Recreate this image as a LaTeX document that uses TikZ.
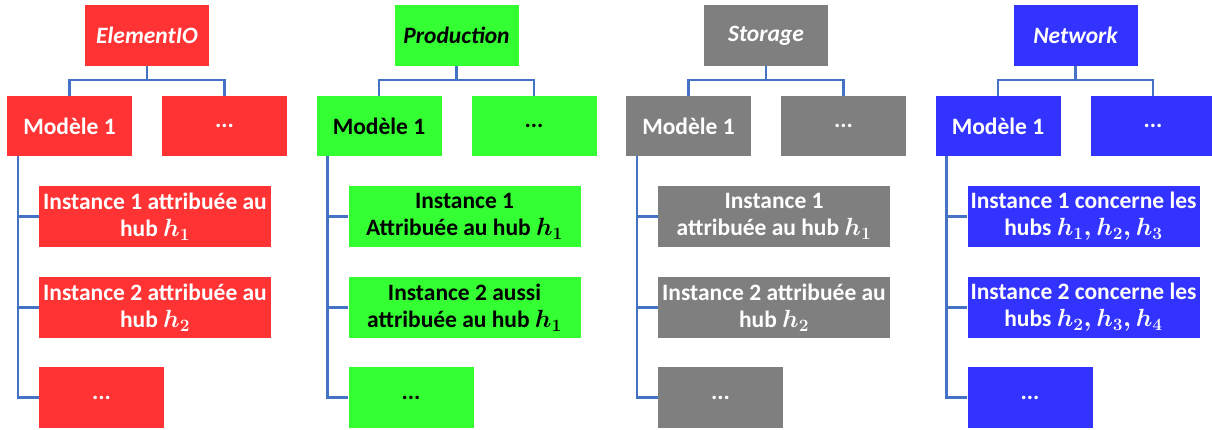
\documentclass[tikz,border=0pt]{standalone}
\usepackage{fontspec}
\setmainfont{Carlito}
\definecolor{cred}{HTML}{FF3333}
\definecolor{cgreen}{HTML}{33FF33}
\definecolor{cgray}{HTML}{7F7F7F}
\definecolor{cblue}{HTML}{3333FF}
\definecolor{cline}{HTML}{4472C4}
\tikzset{
  cbox/.style={fill=#1, draw=none, inner sep=0pt, align=center,
    font=\fontsize{23.5}{27}\selectfont\bfseries},
  hdr/.style={minimum width=124pt, minimum height=61pt,
    font=\fontsize{23.5}{27}\selectfont\bfseries\itshape},
  wide/.style={minimum width=232pt, minimum height=61pt},
  narrow/.style={minimum width=125pt, minimum height=60pt},
  link/.style={draw=cline, line width=2.2pt},
}
\newcommand\hb[1]{{\boldmath$#1$}}
\newcommand\drawcol[7]{%
  \begin{scope}[xshift=#1pt]
    \node[cbox=#3, text=#4, hdr] (#2h) at (147,35.5) {#5};
    \node[cbox=#3, text=#4, narrow] (#2m) at (69.5,126) {Modèle 1};
    \node[cbox=#3, text=#4, narrow] (#2d) at (224.5,126) {...};
    \node[cbox=#3, text=#4, wide] (#2a) at (155,216.5) {#6};
    \node[cbox=#3, text=#4, wide] (#2b) at (155,307.5) {#7};
    \node[cbox=#3, text=#4, narrow, minimum height=61pt] (#2e) at (101.5,397.5) {...};
    \draw[link] (#2h.south) -- ++(0,14) coordinate (#2j);
    \draw[link] (#2j) -| (#2m.north);
    \draw[link] (#2j) -| (#2d.north);
    \coordinate (#2t) at (18,156);
    \draw[link] (#2t) |- (#2a.west);
    \draw[link] (#2t) |- (#2b.west);
    \draw[link] (#2t) |- (#2e.west);
  \end{scope}}
\begin{document}
\begin{tikzpicture}[x=1pt,y=-1pt]
  \useasboundingbox (0,0) rectangle (1212,430);
  \drawcol{0}{r}{cred}{white}{ElementIO}
    {Instance 1 attribuée au\\ hub \hb{h_1}}
    {Instance 2 attribuée au\\ hub \hb{h_2}}
  \drawcol{309.5}{g}{cgreen}{black}{Production}
    {Instance 1\\ Attribuée au hub \hb{h_1}}
    {Instance 2 aussi\\ attribuée au hub \hb{h_1}}
  \drawcol{619}{s}{cgray}{white}{Storage}
    {Instance 1\\ attribuée au hub \hb{h_1}}
    {Instance 2 attribuée au\\ hub \hb{h_2}}
  \drawcol{928.5}{n}{cblue}{white}{Network}
    {Instance 1 concerne les\\ hubs \hb{h_1,h_2,h_3}}
    {Instance 2 concerne les\\ hubs\ \hb{h_2,h_3,h_4}}
\end{tikzpicture}
\end{document}
